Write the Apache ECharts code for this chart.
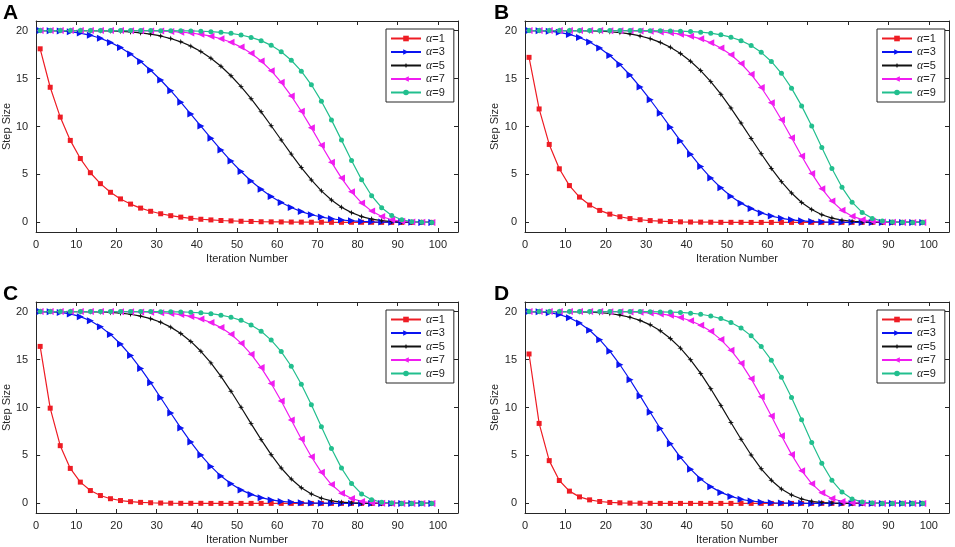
<!DOCTYPE html>
<html><head><meta charset="utf-8">
<script src="https://cdn.jsdelivr.net/npm/echarts@6/dist/echarts.min.js"></script>
<style>html,body{margin:0;padding:0;background:#fff}#c{width:955px;height:547px}</style>
</head><body><div id="c"></div><script>
// ---- data ----
const iterations = [1,3.5,6,8.5,11,13.5,16,18.5,21,23.5,26,28.5,31,33.5,36,38.5,41,43.5,46,48.5,51,53.5,56,58.5,61,63.5,66,68.5,71,73.5,76,78.5,81,83.5,86,88.5,91,93.5,96,98.5];
const xTicks = [0,10,20,30,40,50,60,70,80,90,100];
const yTicks = [0,5,10,15,20];
const seriesNames = ['α=1','α=3','α=5','α=7','α=9'];
const panelLabels = ['A','B','C','D'];

const A_a1 = [18.10,14.09,10.98,8.55,6.66,5.18,4.04,3.14,2.45,1.91,1.49,1.16,0.90,0.70,0.55,0.43,0.33,0.26,0.20,0.16,0.12,0.10,0.07,0.06,0.05,0.04,0.03,0.02,0.02,0.01,0.01,0.01,0.01,0.01,0,0,0,0,0,0];
const A_a3 = [20,19.99,19.96,19.88,19.74,19.51,19.20,18.77,18.23,17.57,16.78,15.87,14.85,13.73,12.54,11.30,10.04,8.78,7.56,6.39,5.31,4.32,3.45,2.70,2.07,1.55,1.13,0.80,0.56,0.38,0.25,0.16,0.10,0.06,0.03,0.02,0.01,0.01,0,0];
const A_a5 = [20,20,20,20,20,19.99,19.98,19.96,19.92,19.86,19.76,19.63,19.44,19.17,18.83,18.38,17.81,17.12,16.28,15.29,14.16,12.90,11.53,10.08,8.59,7.12,5.72,4.43,3.29,2.34,1.58,1.02,0.61,0.35,0.18,0.09,0.04,0.02,0.01,0];
const A_a7 = [20,20,20,20,20,20,20,20,20,19.99,19.98,19.97,19.95,19.91,19.84,19.75,19.61,19.42,19.15,18.78,18.28,17.64,16.83,15.82,14.61,13.19,11.59,9.86,8.05,6.28,4.62,3.19,2.03,1.18,0.62,0.28,0.11,0.04,0.01,0];
const A_a9 = [20,20,20,20,20,20,20,20,20,20,20,20,19.99,19.99,19.98,19.96,19.93,19.89,19.82,19.71,19.54,19.29,18.95,18.46,17.79,16.91,15.77,14.35,12.64,10.69,8.58,6.45,4.46,2.78,1.53,0.72,0.28,0.08,0.02,0];

const B_a1 = [17.21,11.83,8.13,5.59,3.84,2.64,1.81,1.25,0.86,0.59,0.40,0.28,0.19,0.13,0.09,0.06,0.04,0.03,0.02,0.01,0.01,0.01,0,0,0,0,0,0,0,0,0,0,0,0,0,0,0,0,0,0];
const B_a3 = [20,19.99,19.94,19.82,19.60,19.28,18.81,18.19,17.41,16.46,15.37,14.13,12.79,11.38,9.93,8.50,7.11,5.82,4.64,3.61,2.73,2.01,1.44,0.99,0.66,0.43,0.27,0.16,0.09,0.05,0.03,0.01,0.01,0,0,0,0,0,0,0];
const B_a5 = [20,20,20,20,20,19.99,19.97,19.94,19.88,19.79,19.65,19.44,19.16,18.77,18.27,17.62,16.81,15.83,14.68,13.37,11.92,10.36,8.75,7.16,5.63,4.25,3.06,2.08,1.34,0.80,0.45,0.23,0.11,0.05,0.02,0.01,0,0,0,0];
const B_a7 = [20,20,20,20,20,20,20,20,19.99,19.99,19.98,19.95,19.92,19.86,19.77,19.63,19.42,19.14,18.73,18.19,17.48,16.57,15.44,14.07,12.48,10.71,8.82,6.92,5.11,3.52,2.22,1.27,0.65,0.29,0.11,0.03,0.01,0,0,0];
const B_a9 = [20,20,20,20,20,20,20,20,20,20,20,20,19.99,19.98,19.97,19.94,19.90,19.83,19.73,19.56,19.31,18.95,18.44,17.73,16.78,15.55,14.00,12.15,10.05,7.82,5.62,3.66,2.11,1.04,0.42,0.14,0.03,0.01,0,0];

const C_a1 = [16.37,9.93,6.02,3.65,2.22,1.34,0.82,0.49,0.30,0.18,0.11,0.07,0.04,0.02,0.01,0.01,0.01,0,0,0,0,0,0,0,0,0,0,0,0,0,0,0,0,0,0,0,0,0,0,0];
const C_a3 = [20,19.98,19.91,19.76,19.47,19.04,18.43,17.62,16.62,15.43,14.07,12.59,11.02,9.43,7.87,6.39,5.04,3.86,2.85,2.04,1.41,0.94,0.60,0.36,0.21,0.12,0.06,0.03,0.02,0.01,0,0,0,0,0,0,0,0,0,0];
const C_a5 = [20,20,20,20,19.99,19.98,19.96,19.91,19.84,19.72,19.53,19.26,18.89,18.38,17.72,16.89,15.86,14.65,13.25,11.69,10.03,8.32,6.65,5.08,3.69,2.54,1.63,0.98,0.54,0.27,0.13,0.05,0.02,0.01,0,0,0,0,0,0];
const C_a7 = [20,20,20,20,20,20,20,20,19.99,19.98,19.97,19.94,19.89,19.81,19.69,19.50,19.24,18.86,18.33,17.63,16.71,15.56,14.16,12.51,10.67,8.70,6.72,4.86,3.24,1.97,1.07,0.51,0.21,0.07,0.02,0,0,0,0,0];
const C_a9 = [20,20,20,20,20,20,20,20,20,20,20,20,19.99,19.98,19.96,19.93,19.87,19.78,19.63,19.41,19.09,18.61,17.95,17.03,15.83,14.30,12.43,10.29,7.99,5.72,3.68,2.08,0.99,0.39,0.12,0.03,0,0,0,0];

const D_a1 = [15.58,8.34,4.46,2.39,1.28,0.68,0.37,0.20,0.10,0.06,0.03,0.02,0.01,0,0,0,0,0,0,0,0,0,0,0,0,0,0,0,0,0,0,0,0,0,0,0,0,0,0,0];
const D_a3 = [20,19.98,19.89,19.70,19.35,18.81,18.05,17.07,15.87,14.46,12.89,11.21,9.50,7.81,6.23,4.80,3.57,2.55,1.75,1.15,0.73,0.43,0.25,0.13,0.07,0.03,0.02,0.01,0,0,0,0,0,0,0,0,0,0,0,0];
const D_a5 = [20,20,20,20,19.99,19.98,19.95,19.89,19.80,19.64,19.41,19.08,18.62,18.00,17.19,16.19,14.97,13.55,11.95,10.22,8.44,6.69,5.05,3.61,2.42,1.51,0.87,0.46,0.22,0.09,0.04,0.01,0,0,0,0,0,0,0,0];
const D_a7 = [20,20,20,20,20,20,20,20,19.99,19.98,19.96,19.92,19.86,19.76,19.61,19.38,19.05,18.58,17.94,17.08,15.98,14.62,12.99,11.13,9.12,7.06,5.11,3.41,2.06,1.10,0.51,0.20,0.07,0.02,0,0,0,0,0,0];
const D_a9 = [20,20,20,20,20,20,20,20,20,20,20,20,19.99,19.97,19.95,19.91,19.84,19.72,19.54,19.27,18.87,18.28,17.47,16.36,14.93,13.15,11.04,8.72,6.36,4.18,2.41,1.18,0.47,0.14,0.03,0,0,0,0,0];

const panels = [
  [A_a1,A_a3,A_a5,A_a7,A_a9],
  [B_a1,B_a3,B_a5,B_a7,B_a9],
  [C_a1,C_a3,C_a5,C_a7,C_a9],
  [D_a1,D_a3,D_a5,D_a7,D_a9]
];

// ---- styling ----
const colors = ['#ee1c24','#0a14f0','#111111','#f01cf0','#22bf8e'];
const symbols = ['rect','triangle','path://M5,0 L6.2,3.8 L10,5 L6.2,6.2 L5,10 L3.8,6.2 L0,5 L3.8,3.8 Z','triangle','circle'];
const symbolSizes = [5,7,6,7,5];
const symbolRotates = [0,-90,0,90,0];
const gridPos = [{left:34,top:21},{left:525,top:21},{left:34,top:302},{left:525,top:302}];
const W = 424, H = 211;
const axisColor = '#262626';
const font = 'Liberation Sans, Arial, sans-serif';

const grid = [], xAxis = [], yAxis = [], series = [], legend = [], title = [];
gridPos.forEach((g, i) => {
  grid.push({left:g.left, top:g.top, width:W, height:H, containLabel:false});
  const tick = {show:true, inside:true, length:4, lineStyle:{color:axisColor, width:1}};
  xAxis.push({
    type:'value', gridIndex:i, min:0, max:105, position:'bottom',
    name:'Iteration Number', nameLocation:'middle', nameGap:21,
    nameTextStyle:{color:axisColor, fontSize:11, fontFamily:font},
    axisLine:{show:true, onZero:false, lineStyle:{color:axisColor, width:1}},
    axisTick:Object.assign({customValues:xTicks}, tick),
    axisLabel:{customValues:xTicks, color:axisColor, fontSize:11, fontFamily:font, margin:7},
    splitLine:{show:false}
  });
  xAxis.push({
    type:'value', gridIndex:i, min:0, max:105, position:'top',
    axisLine:{show:true, onZero:false, lineStyle:{color:axisColor, width:1}},
    axisTick:Object.assign({customValues:xTicks}, tick),
    axisLabel:{show:false}, splitLine:{show:false}
  });
  yAxis.push({
    type:'value', gridIndex:i, min:-1, max:21, position:'left',
    name:'Step Size', nameLocation:'middle', nameGap:17, nameRotate:90,
    nameTextStyle:{color:axisColor, fontSize:11, fontFamily:font},
    axisLine:{show:true, onZero:false, lineStyle:{color:axisColor, width:1}},
    axisTick:Object.assign({customValues:yTicks}, tick),
    axisLabel:{customValues:yTicks, color:axisColor, fontSize:11, fontFamily:font, margin:8},
    splitLine:{show:false}
  });
  yAxis.push({
    type:'value', gridIndex:i, min:-1, max:21, position:'right',
    axisLine:{show:true, onZero:false, lineStyle:{color:axisColor, width:1}},
    axisTick:Object.assign({customValues:yTicks}, tick),
    axisLabel:{show:false}, splitLine:{show:false}
  });
  panels[i].forEach((vals, s) => {
    series.push({
      type:'line', name:seriesNames[s], xAxisIndex:2*i, yAxisIndex:2*i,
      data: iterations.map((x, k) => [x, vals[k]]),
      symbol:symbols[s], symbolSize:symbolSizes[s], symbolRotate:symbolRotates[s],
      showSymbol:true, showAllSymbol:true,
      lineStyle:{color:colors[s], width:1.2},
      itemStyle:{color:colors[s], borderWidth:0},
      emphasis:{disabled:true}, animation:false
    });
  });
  legend.push({
    orient:'vertical', left:g.left+352, top:g.top+8,
    data:seriesNames, backgroundColor:'#fff', borderColor:axisColor, borderWidth:1,
    borderRadius:0, padding:[3,9,3,4], itemGap:0.5, itemWidth:30, itemHeight:7,
    selectedMode:false,
    textStyle:{fontSize:11, fontFamily:font, color:axisColor, lineHeight:13,
      rich:{g:{fontFamily:'Liberation Serif, serif', fontStyle:'italic', fontSize:12, color:axisColor}, t:{fontSize:11, fontFamily:font, color:axisColor}}},
    formatter: n => '{g|α}{t|' + n.slice(1) + '}'
  });
  title.push({
    text:panelLabels[i], left:g.left-31, top:g.top-18, padding:0,
    textStyle:{fontSize:21, fontWeight:'bold', color:'#000', fontFamily:font}
  });
});

const chart = echarts.init(document.getElementById('c'), null, {renderer:'canvas'});
chart.setOption({animation:false, backgroundColor:'#fff', title, grid, xAxis, yAxis, legend, series});
</script></body></html>
